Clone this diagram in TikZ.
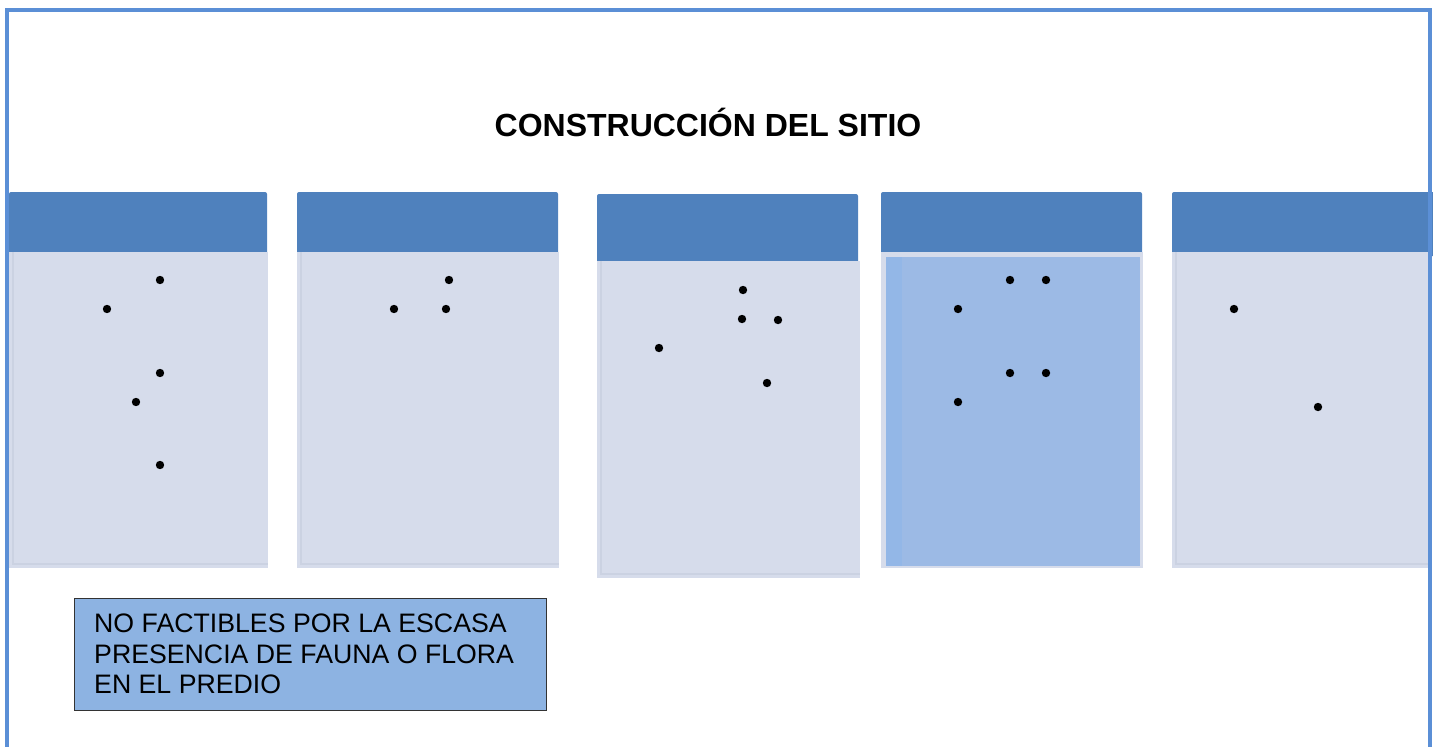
\documentclass[tikz,border=0pt]{standalone}
\usepackage{fontspec}
\setmainfont{Liberation Sans}

\definecolor{framecol}{HTML}{5B8FD6}
\definecolor{headcol}{HTML}{4F81BD}
\definecolor{bodycol}{HTML}{D6DCEB}
\definecolor{bodyedge}{HTML}{CBD2E2}
\definecolor{hilite}{HTML}{9CBAE5}
\definecolor{hilitestrip}{HTML}{93B7E7}
\definecolor{notecol}{HTML}{8DB3E2}

\begin{document}
\begin{tikzpicture}[x=1pt,y=-1pt,
  head/.style={fill=headcol,rounded corners=2pt},
  body/.style={fill=bodycol},
  edge/.style={draw=bodyedge,line width=1.5pt},
  dot/.style={fill=black}]
\useasboundingbox (0,0) rectangle (1433,747);

% column heads
\fill[head] (9,192) rectangle (267,256);
\fill[head] (297,192) rectangle (558,256);
\fill[head] (597,194) rectangle (858,264);
\fill[head] (881,192) rectangle (1142,256);
\fill[head] (1172,192) rectangle (1436,256);

% column bodies
\fill[body] (9,252) rectangle (268,568);
\fill[body] (297,252) rectangle (559,568);
\fill[body] (597,261) rectangle (860,578);
\fill[body] (881,252) rectangle (1143,568);
\fill[body] (1172,252) rectangle (1430,568);
\draw[edge] (13,252) -- (13,564) -- (268,564);
\draw[edge] (301,252) -- (301,564) -- (559,564);
\draw[edge] (601,261) -- (601,574) -- (860,574);
\draw[edge] (1176,252) -- (1176,564) -- (1430,564);
\fill[hilite] (886,257) rectangle (1140,566);
\fill[hilitestrip] (886,257) rectangle (902,566);

% dots
\fill[dot] (160,280) circle (4.2pt);
\fill[dot] (107,309) circle (4.2pt);
\fill[dot] (160,373) circle (4.2pt);
\fill[dot] (136,402) circle (4.2pt);
\fill[dot] (160,465) circle (4.2pt);

\fill[dot] (449,280) circle (4.2pt);
\fill[dot] (394,309) circle (4.2pt);
\fill[dot] (446,309) circle (4.2pt);

\fill[dot] (743,290) circle (4.2pt);
\fill[dot] (742,319) circle (4.2pt);
\fill[dot] (778,320) circle (4.2pt);
\fill[dot] (659,348) circle (4.2pt);
\fill[dot] (767,383) circle (4.2pt);

\fill[dot] (1010,280) circle (4.2pt);
\fill[dot] (1046,280) circle (4.2pt);
\fill[dot] (958,309) circle (4.2pt);
\fill[dot] (1010,373) circle (4.2pt);
\fill[dot] (1046,373) circle (4.2pt);
\fill[dot] (958,402) circle (4.2pt);

\fill[dot] (1234,309) circle (4.2pt);
\fill[dot] (1318,407) circle (4.2pt);

% outer frame
\draw[framecol,line width=4pt] (7,750) -- (7,10) -- (1430,10) -- (1430,750);

\node[font=\bfseries\fontsize{32}{36}\selectfont,anchor=base] (title) at (708,136) {CONSTRUCCIÓN DEL SITIO};

\draw[fill=notecol,draw=black!80,line width=1pt] (74,598) rectangle (546,710);
\node[anchor=north west,align=left,inner sep=0pt,font=\fontsize{26.7}{30.5}\selectfont] (note) at (94,614)
  {NO FACTIBLES POR LA ESCASA\\PRESENCIA DE FAUNA O FLORA\\EN EL PREDIO};
\end{tikzpicture}
\end{document}
